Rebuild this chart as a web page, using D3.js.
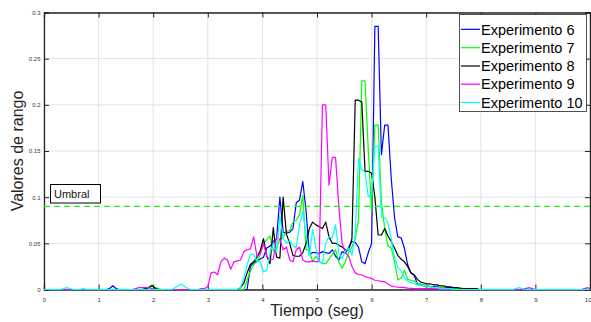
<!DOCTYPE html>
<html>
<head>
<meta charset="utf-8">
<script src="https://cdn.jsdelivr.net/npm/d3@7"></script>
<style>
  html, body { margin: 0; padding: 0; background: #fff; }
  svg { display: block; font-family: "Liberation Sans", Arial, Helvetica, sans-serif; }
</style>
</head>
<body>
<svg id="chart" width="591" height="322"></svg>
<script>
// Range values sampled every 0.06 s, one array per experiment (168 samples, 0 .. 10.02 s)
const TIME_STEP = 0.06;

const exp6 = [
  0,0,0,0,0,0,0,0,0,0,
  0,0,0,0,0,0,0,0,0,0,
  0.001,0.004,0.001,0,0,0,0,0,0,0,
  0,0,0,0,0,0,0,0,0,0,
  0,0,0,0,0,0,0,0,0,0,
  0,0,0,0,0,0,0,0,0,0,
  0,0,0,0.025,0.029,0.031,0.033,0.035,0.045,0.047,
  0.052,0.055,0.1,0.062,0.061,0.062,0.066,0.094,0.097,0.117,
  0.085,0.038,0.04,0.04,0.039,0.041,0.04,0.039,0.043,0.036,
  0.032,0.041,0.039,0.046,0.052,0.051,0.046,0.03,0.028,0.04,
  0.05,0.285,0.285,0.146,0.178,0.178,0.12,0.078,0.057,0.056,
  0.045,0.027,0.018,0.015,0.006,0.005,0.004,0.004,0.003,0.003,
  0.003,0.002,0.002,0.002,0.002,0.002,0.001,0.001,0.001,0.001,
  0.001,0,0,0,0,0,0,0,0,0,
  0,0,0,0,0,0,0,0,0,0,
  0,0,0,0,0,0,0,0,0,0,
  0,0,0,0,0,0,0,0
];

const exp7 = [
  0,0,0,0,0,0,0,0,0,0,
  0,0,0,0,0,0,0,0,0,0,
  0,0,0,0,0,0,0,0,0,0,
  0,0.001,0.003,0.005,0.002,0.001,0,0,0,0,
  0,0,0,0,0,0,0,0,0,0,
  0,0,0,0,0,0,0,0,0,0,
  0,0,0.01,0.02,0.027,0.03,0.038,0.05,0.054,0.058,
  0.042,0.045,0.054,0.057,0.063,0.064,0.073,0.075,0.081,0.102,
  0.043,0.043,0.03,0.036,0.03,0.028,0.028,0.033,0.038,0.043,
  0.03,0.023,0.03,0.04,0.046,0.055,0.075,0.226,0.226,0.15,
  0.085,0.178,0.178,0.095,0.066,0.047,0.045,0.03,0.011,0.012,
  0.021,0.011,0.01,0.009,0.007,0.006,0.005,0.004,0.003,0.002,
  0.002,0.002,0.002,0.001,0.001,0.001,0.001,0.001,0,0,
  0,0,0,0,0,0,0,0,0,0,
  0,0,0,0,0,0,0,0,0,0,
  0,0,0,0,0,0,0,0,0,0,
  0,0,0,0,0,0,0,0
];

const exp8 = [
  0,0,0,0,0,0,0,0,0,0,
  0,0,0,0,0,0,0,0,0,0,
  0,0,0,0,0,0,0,0,0,0,
  0,0.001,0.002,0.004,0.001,0,0,0,0,0,
  0,0,0,0,0,0,0,0,0,0,
  0,0,0,0,0,0,0,0,0,0,
  0.002,0.007,0.018,0.027,0.03,0.035,0.042,0.055,0.036,0.028,
  0.067,0.035,0.034,0.1,0.06,0.05,0.037,0.036,0.036,0.04,
  0.05,0.066,0.073,0.07,0.068,0.066,0.073,0.057,0.05,0.05,
  0.048,0.046,0.043,0.043,0.055,0.205,0.205,0.203,0.128,0.128,
  0.126,0.1,0.059,0.059,0.066,0.058,0.052,0.045,0.037,0.033,
  0.03,0.025,0.018,0.016,0.011,0.008,0.007,0.006,0.006,0.005,
  0.005,0.004,0.004,0.003,0.003,0.002,0.002,0.0015,0.001,0.001,
  0.001,0.001,0.001,0,0,0,0,0,0,0,
  0,0,0,0,0,0,0,0,0,0,
  0,0,0,0,0,0,0,0,0,0,
  0,0,0,0,0,0,0,0
];

const exp9 = [
  0,0,0,0,0,0,0,0,0,0,
  0,0,0,0,0,0,0,0,0,0,
  0,0,0,0,0,0,0,0,0.001,0.002,
  0.002,0.002,0.002,0.001,0,0,0,0,0,0,
  0,0,0,0,0,0,0,0,0.001,0.001,
  0.003,0.018,0.019,0.016,0.03,0.034,0.032,0.022,0.03,0.031,
  0.032,0.041,0.043,0.044,0.057,0.036,0.038,0.05,0.036,0.032,
  0.033,0.057,0.054,0.043,0.046,0.032,0.03,0.043,0.046,0.032,
  0.03,0.03,0.031,0.03,0.031,0.2,0.2,0.113,0.143,0.143,
  0.09,0.05,0.04,0.036,0.025,0.018,0.016,0.016,0.014,0.013,
  0.012,0.01,0.0095,0.0088,0.0085,0.006,0.004,0.003,0.0025,0.0024,
  0.002,0.0015,0.0013,0.001,0.001,0.001,0.001,0.001,0.001,0.001,
  0.001,0,0,0,0,0,0,0,0,0,
  0,0,0,0,0,0,0,0,0,0,
  0,0,0,0,0,0,0,0.001,0.002,0.001,
  0,0,0,0,0,0,0,0,0,0,
  0,0,0,0,0,0.001,0.002,0
];

const exp10 = [
  0,0,0,0,0,0,0.001,0.002,0.001,0,
  0,0,0.001,0,0,0,0,0,0,0,
  0,0,0,0,0,0,0,0,0,0,
  0,0,0,0,0,0,0,0,0,0,
  0.002,0.004,0.006,0.003,0.001,0,0,0,0,0,
  0,0,0,0,0,0,0,0,0,0,
  0.002,0.012,0.027,0.038,0.038,0.031,0.03,0.019,0.021,0.04,
  0.05,0.04,0.08,0.055,0.05,0.053,0.048,0.045,0.07,0.084,
  0.06,0.036,0.065,0.045,0.03,0.028,0.05,0.057,0.056,0.07,
  0.04,0.033,0.042,0.045,0.037,0.06,0.142,0.13,0.127,0.1,
  0.104,0.155,0.155,0.078,0.078,0.072,0.055,0.035,0.024,0.02,
  0.013,0.009,0.0075,0.0065,0.005,0.005,0.004,0.003,0.003,0.002,
  0.002,0.001,0.001,0.001,0.001,0,0,0,0,0,
  0,0,0,0,0,0,0,0,0,0,
  0,0,0,0,0.001,0.002,0.001,0,0,0,
  0,0,0,0,0,0,0,0,0,0,
  0,0,0,0,0,0,0,0
];

const seriesNames = ["Experimento 6", "Experimento 7", "Experimento 8", "Experimento 9", "Experimento 10"];
const seriesColors = ["#0000ff", "#00ff00", "#000000", "#ff00ff", "#00ffff"];
const seriesValues = [exp6, exp7, exp8, exp9, exp10];

const xTicks = [0, 1, 2, 3, 4, 5, 6, 7, 8, 9, 10];
const yTicks = [0, 0.05, 0.1, 0.15, 0.2, 0.25, 0.3];
const threshold = 0.09;
const thresholdLabel = "Umbral";
const xTitle = "Tiempo (seg)";
const yTitle = "Valores de rango";

// Layout
const plot = { left: 44, right: 590, top: 12.5, bottom: 289.5 };
const axisColor = "#262626";

const svg = d3.select("#chart");
const x = d3.scaleLinear().domain([0, 10]).range([plot.left, plot.right]);
const y = d3.scaleLinear().domain([0, 0.3]).range([plot.bottom, plot.top]);

// Grid
const grid = svg.append("g");
grid.selectAll("line.gx").data(xTicks).join("line")
  .attr("x1", d => x(d)).attr("x2", d => x(d))
  .attr("y1", plot.top).attr("y2", plot.bottom)
  .attr("stroke", "#e3e3e3").attr("stroke-width", 1);
grid.selectAll("line.gy").data(yTicks).join("line")
  .attr("x1", plot.left).attr("x2", plot.right)
  .attr("y1", d => y(d)).attr("y2", d => y(d))
  .attr("stroke", "#e3e3e3").attr("stroke-width", 1);

// Axes (ticks point inward, box on all four sides)
const tickLen = 5;
const axBottom = svg.append("g").attr("transform", `translate(0,${plot.bottom})`)
  .call(d3.axisBottom(x).tickValues(xTicks).tickSize(-tickLen).tickPadding(3 + tickLen).tickFormat(d3.format("d")));
const axTop = svg.append("g").attr("transform", `translate(0,${plot.top})`)
  .call(d3.axisTop(x).tickValues(xTicks).tickSize(-tickLen).tickFormat(""));
const axLeft = svg.append("g").attr("transform", `translate(${plot.left},0)`)
  .call(d3.axisLeft(y).tickValues(yTicks).tickSize(-tickLen).tickPadding(3 + tickLen).tickFormat(d => d === 0 ? "0" : d3.format("~g")(d)));
const axRight = svg.append("g").attr("transform", `translate(${plot.right},0)`)
  .call(d3.axisRight(y).tickValues(yTicks).tickSize(-tickLen).tickFormat(""));

[axBottom, axTop, axLeft, axRight].forEach(g => {
  g.select(".domain").attr("stroke", axisColor).attr("stroke-width", 1.3);
  g.selectAll(".tick line").attr("stroke", axisColor).attr("stroke-width", 1);
  g.selectAll(".tick text").attr("fill", "#333").attr("font-size", "6px")
    .attr("font-family", "'Liberation Sans', Arial, sans-serif");
});
axLeft.selectAll(".tick text").attr("x", -(plot.left - 40.5));
// keep the last x label inside the page edge
axBottom.selectAll(".tick text").filter(d => d === 10)
  .attr("text-anchor", "end").attr("x", 591 - plot.right);

// Data lines
svg.append("defs").append("clipPath").attr("id", "plotClip")
  .append("rect").attr("x", plot.left).attr("y", plot.top - 2)
  .attr("width", plot.right - plot.left).attr("height", plot.bottom - plot.top + 4);

const line = d3.line()
  .x((d, i) => x(i * TIME_STEP))
  .y(d => y(d));

const lines = svg.append("g").attr("clip-path", "url(#plotClip)");
seriesValues.forEach((vals, k) => {
  lines.append("path")
    .datum(vals)
    .attr("d", line)
    .attr("fill", "none")
    .attr("stroke", seriesColors[k])
    .attr("stroke-width", 1.2)
    .attr("stroke-linejoin", "round");
});

// Threshold
svg.append("line")
  .attr("x1", plot.left).attr("x2", plot.right)
  .attr("y1", y(threshold)).attr("y2", y(threshold))
  .attr("stroke", "#22ee22").attr("stroke-width", 1.2)
  .attr("stroke-dasharray", "6,4");

const thr = svg.append("g");
thr.append("rect").attr("x", 50.5).attr("y", 184.5).attr("width", 50).attr("height", 18.5)
  .attr("fill", "#fff").attr("stroke", "#000").attr("stroke-width", 1);
thr.append("text").attr("x", 54).attr("y", 198).attr("font-size", "11px").attr("fill", "#111")
  .text(thresholdLabel);

// Axis titles
svg.append("text")
  .attr("x", (plot.left + plot.right) / 2).attr("y", 316)
  .attr("text-anchor", "middle").attr("font-size", "16px").attr("fill", "#262626")
  .text(xTitle);
svg.append("text")
  .attr("transform", `translate(22.5,${(plot.top + plot.bottom) / 2}) rotate(-90)`)
  .attr("text-anchor", "middle").attr("font-size", "16px").attr("fill", "#262626")
  .text(yTitle);

// Legend
const legend = svg.append("g");
legend.append("rect").attr("x", 459.5).attr("y", 14.5).attr("width", 127).attr("height", 97)
  .attr("fill", "#fff").attr("stroke", axisColor).attr("stroke-width", 0.8);
const rowY = [29.3, 47.7, 66, 84.2, 102.4];
seriesNames.forEach((name, k) => {
  legend.append("line").attr("x1", 461).attr("x2", 480)
    .attr("y1", rowY[k]).attr("y2", rowY[k])
    .attr("stroke", seriesColors[k]).attr("stroke-width", 1.2);
  legend.append("text").attr("x", 481).attr("y", rowY[k]).attr("dy", "0.36em")
    .attr("font-size", "14.5px").attr("fill", "#000").text(name);
});
</script>
</body>
</html>
